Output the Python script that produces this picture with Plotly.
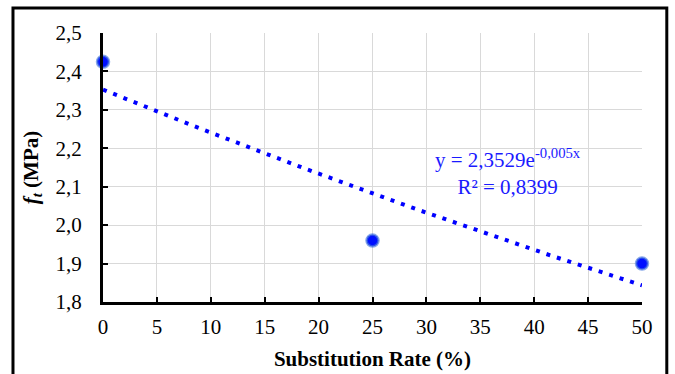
import numpy as np
import plotly.graph_objects as go

# Data
substitution_rate = [0, 25, 50]
ft_mpa = [2.425, 1.96, 1.90]
x_ticks = [0, 5, 10, 15, 20, 25, 30, 35, 40, 45, 50]
y_ticks = [1.8, 1.9, 2.0, 2.1, 2.2, 2.3, 2.4, 2.5]
eq_text = "y = 2,3529e<sup>-0,005x</sup><br>R² = 0,8399"

# Exponential trendline fitted from data
b, ln_a = np.polyfit(substitution_rate, np.log(ft_mpa), 1)
xt = np.linspace(0, 50, 201)
yt = np.exp(ln_a) * np.exp(b * xt)

FONT = "Liberation Serif"
fig = go.Figure()
fig.add_trace(go.Scatter(x=xt, y=yt, mode="lines",
                         line=dict(color="#0000ff", width=4, dash="4px,7px"),
                         hoverinfo="skip", showlegend=False))
fig.add_trace(go.Scatter(x=substitution_rate, y=ft_mpa, mode="markers",
                         marker=dict(size=12, color="#0010ff",
                                     line=dict(color="rgba(70,120,220,0.65)", width=2.5)),
                         cliponaxis=False, showlegend=False))

fig.add_annotation(x=37.6, y=2.138, xref="x", yref="y", text=eq_text,
                   showarrow=False, align="center",
                   font=dict(family=FONT, size=21, color="#1a1aff"))

# outer frame
fig.add_shape(type="rect", xref="paper", yref="paper",
              x0=-0.167, x1=1.046, y0=-0.5, y1=1.093,
              line=dict(color="black", width=3), layer="above")

fig.update_layout(
    width=675, height=374,
    margin=dict(l=103, r=33, t=33, b=72),
    paper_bgcolor="white", plot_bgcolor="white",
    separators=", ",
    font=dict(family=FONT, size=21, color="black"),
    showlegend=False,
)
fig.update_xaxes(range=[0, 50], tickvals=x_ticks, ticks="inside", ticklen=5,
                 tickwidth=2, tickcolor="black", showline=True, linewidth=3,
                 linecolor="black", showgrid=True, gridcolor="#d9d9d9", gridwidth=1,
                 zeroline=False, ticklabelstandoff=4, automargin=False,
                 tickfont=dict(family=FONT, size=21),
                 title=dict(text="<b>Substitution Rate (%)</b>", standoff=14,
                            font=dict(family=FONT, size=21)))
fig.update_yaxes(range=[1.8, 2.5], tickvals=y_ticks, tickformat=".1f",
                 ticks="inside", ticklen=5, tickwidth=2, tickcolor="black",
                 showline=True, linewidth=3, linecolor="black",
                 showgrid=True, gridcolor="#d9d9d9", gridwidth=1, zeroline=False,
                 ticklabelstandoff=14, automargin=False,
                 tickfont=dict(family=FONT, size=21),
                 title=dict(text="<b><i>f<sub>t</sub></i> (MPa)</b>", standoff=12,
                            font=dict(family=FONT, size=21)))

fig.write_html("out.html")
